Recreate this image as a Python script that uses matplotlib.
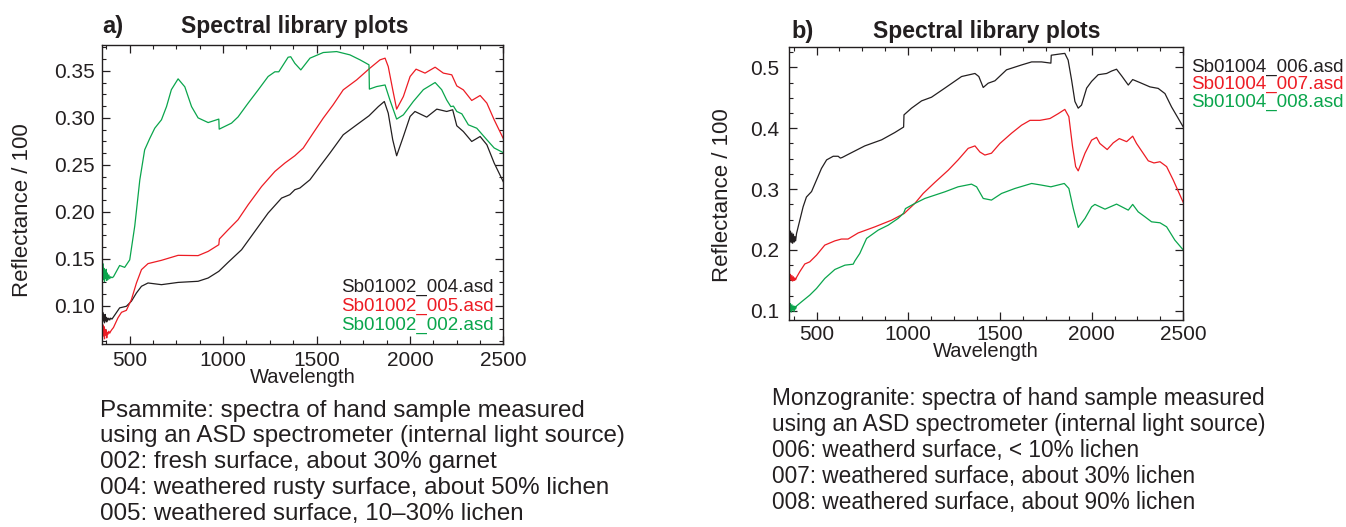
"""Two spectral library panels (ASD hand-sample spectra): psammite and monzogranite."""
import matplotlib
matplotlib.use('Agg')
import matplotlib.pyplot as plt
from matplotlib.ticker import MultipleLocator, FormatStrFormatter

plt.rcParams['font.family'] = ['Liberation Sans', 'DejaVu Sans']

INK   = '#231f20'
RED   = '#ed1c24'
GREEN = '#0aa54c'

# ─── panel a: psammite ────────────────────────────────────────────
a_wl_002 = [350, 353, 356, 359, 362, 365, 368, 371, 374, 377, 380, 384, 388, 393, 398, 405,
            413, 446, 473, 500, 527, 554, 580, 607, 634, 670, 697, 723, 759, 795, 831, 866,
            920, 977, 979, 1045, 1080, 1134, 1188, 1241, 1277, 1298, 1348, 1362, 1384, 1416,
            1465, 1536, 1608, 1679, 1733, 1781, 1783, 1822, 1867, 1893, 1929, 1965, 2018,
            2072, 2135, 2170, 2197, 2219, 2233, 2251, 2278, 2313, 2358, 2412, 2451, 2500]
a_rf_002 = [0.160, 0.131, 0.145, 0.128, 0.140, 0.126, 0.137, 0.129, 0.139, 0.127, 0.135,
            0.128, 0.133, 0.129, 0.131, 0.130, 0.131, 0.143, 0.141, 0.149, 0.185, 0.234,
            0.266, 0.278, 0.289, 0.298, 0.312, 0.330, 0.3415, 0.333, 0.312, 0.300, 0.295,
            0.2987, 0.288, 0.2944, 0.301, 0.3157, 0.3298, 0.344, 0.349, 0.349, 0.3645,
            0.365, 0.358, 0.351, 0.3635, 0.3695, 0.3705, 0.367, 0.3617, 0.3564, 0.3306,
            0.3333, 0.335, 0.319, 0.2987, 0.3032, 0.3174, 0.330, 0.3376, 0.330, 0.319,
            0.312, 0.3125, 0.3068, 0.3043, 0.2926, 0.289, 0.2767, 0.268, 0.263]

a_wl_005 = [350, 353, 356, 359, 362, 365, 368, 371, 374, 377, 380, 384, 388, 393, 398, 405,
            413, 437, 456, 482, 509, 536, 563, 598, 670, 759, 866, 920, 977, 980, 1027, 1080,
            1134, 1206, 1277, 1331, 1384, 1429, 1482, 1536, 1589, 1643, 1715, 1786, 1840,
            1867, 1884, 1908, 1929, 1965, 2001, 2033, 2081, 2135, 2179, 2224, 2251, 2286,
            2331, 2376, 2412, 2451, 2500]
a_rf_005 = [0.085, 0.066, 0.080, 0.068, 0.078, 0.065, 0.075, 0.069, 0.074, 0.066, 0.072,
            0.070, 0.073, 0.071, 0.073, 0.075, 0.077, 0.0873, 0.0932, 0.0953, 0.1067, 0.1244,
            0.1386, 0.145, 0.1485, 0.1538, 0.1535, 0.158, 0.1651, 0.1712, 0.181, 0.1917,
            0.2076, 0.227, 0.243, 0.252, 0.2597, 0.2679, 0.2838, 0.2997, 0.3139, 0.3298,
            0.3404, 0.3529, 0.3617, 0.3635, 0.3546, 0.330, 0.3093, 0.3227, 0.344, 0.3518,
            0.3476, 0.3539, 0.3476, 0.3458, 0.334, 0.3298, 0.3185, 0.3238, 0.3157, 0.298,
            0.278]

a_wl_004 = [350, 353, 356, 359, 362, 365, 368, 371, 374, 377, 380, 384, 388, 393, 398, 405,
            413, 446, 482, 509, 536, 563, 598, 670, 759, 866, 920, 977, 1027, 1099, 1170,
            1241, 1313, 1357, 1384, 1411, 1465, 1518, 1572, 1643, 1715, 1781, 1831, 1863,
            1884, 1908, 1929, 1965, 2001, 2027, 2090, 2144, 2197, 2229, 2251, 2286, 2331,
            2376, 2412, 2451, 2500]
a_rf_004 = [0.096, 0.083, 0.093, 0.084, 0.090, 0.082, 0.091, 0.084, 0.088, 0.083, 0.087,
            0.085, 0.087, 0.085, 0.087, 0.086, 0.0883, 0.0979, 0.0996, 0.105, 0.1138, 0.1209,
            0.1244, 0.1226, 0.125, 0.1262, 0.1297, 0.1368, 0.1464, 0.1598, 0.1793, 0.1988,
            0.2147, 0.2183, 0.2236, 0.2254, 0.2342, 0.2484, 0.2626, 0.282, 0.2926, 0.3022,
            0.312, 0.3174, 0.305, 0.2767, 0.2597, 0.2802, 0.3015, 0.3068, 0.3008, 0.3093,
            0.3068, 0.3086, 0.2916, 0.2855, 0.2749, 0.2802, 0.2714, 0.252, 0.232]

# ─── panel b: monzogranite ────────────────────────────────────────
b_wl_006 = [350, 354, 358, 362, 366, 370, 374, 378, 382, 386, 391, 409, 427, 445, 473, 500,
            527, 555, 591, 618, 630, 640, 672, 763, 855, 927, 975, 977, 1018, 1073, 1127,
            1200, 1291, 1364, 1385, 1409, 1436, 1473, 1536, 1618, 1673, 1727, 1778, 1780,
            1827, 1854, 1872, 1891, 1909, 1927, 1945, 1973, 2000, 2036, 2082, 2109, 2136,
            2164, 2200, 2224, 2264, 2318, 2363, 2400, 2436, 2500]
b_rf_006 = [0.222, 0.213, 0.231, 0.212, 0.228, 0.211, 0.226, 0.213, 0.222, 0.215, 0.227,
            0.249, 0.271, 0.287, 0.296, 0.315, 0.334, 0.348, 0.354, 0.354, 0.351, 0.352,
            0.357, 0.371, 0.381, 0.393, 0.402, 0.422, 0.433, 0.445, 0.451, 0.466, 0.485,
            0.490, 0.485, 0.467, 0.474, 0.478, 0.496, 0.504, 0.509, 0.509, 0.507, 0.520,
            0.522, 0.523, 0.512, 0.479, 0.444, 0.433, 0.438, 0.466, 0.477, 0.488, 0.490,
            0.494, 0.497, 0.486, 0.471, 0.480, 0.475, 0.468, 0.4655, 0.457, 0.435, 0.402]

b_wl_007 = [350, 354, 358, 362, 366, 370, 374, 378, 382, 386, 391, 409, 436, 463, 500, 545,
            600, 636, 672, 727, 818, 909, 978, 1036, 1082, 1145, 1218, 1272, 1327, 1364,
            1391, 1418, 1454, 1500, 1564, 1618, 1664, 1718, 1773, 1818, 1854, 1876, 1896,
            1913, 1927, 1964, 2000, 2027, 2045, 2085, 2118, 2151, 2191, 2224, 2245, 2281,
            2309, 2340, 2373, 2409, 2445, 2500]
b_rf_007 = [0.163, 0.151, 0.160, 0.150, 0.158, 0.149, 0.156, 0.150, 0.154, 0.151, 0.155,
            0.1645, 0.177, 0.1805, 0.1915, 0.208, 0.215, 0.218, 0.218, 0.228, 0.238, 0.249,
            0.260, 0.2765, 0.293, 0.311, 0.331, 0.348, 0.367, 0.371, 0.361, 0.356, 0.359,
            0.375, 0.392, 0.405, 0.413, 0.413, 0.416, 0.424, 0.431, 0.419, 0.370, 0.337,
            0.330, 0.359, 0.3805, 0.385, 0.375, 0.365, 0.376, 0.383, 0.378, 0.387, 0.375,
            0.359, 0.3465, 0.343, 0.345, 0.337, 0.315, 0.278]

b_wl_008 = [350, 354, 358, 362, 366, 370, 374, 378, 382, 386, 391, 418, 463, 500, 545, 600,
            655, 700, 709, 736, 773, 836, 891, 945, 975, 985, 1036, 1091, 1145, 1200, 1272,
            1345, 1373, 1409, 1454, 1509, 1582, 1673, 1727, 1778, 1851, 1876, 1900, 1927,
            1964, 2000, 2018, 2073, 2136, 2200, 2224, 2254, 2291, 2327, 2373, 2409, 2454, 2500]
b_rf_008 = [0.117, 0.100, 0.112, 0.098, 0.110, 0.101, 0.108, 0.099, 0.1077, 0.103, 0.108,
            0.1148, 0.1258, 0.1368, 0.1532, 0.168, 0.1751, 0.1767, 0.182, 0.1943, 0.219,
            0.2326, 0.2408, 0.2519, 0.2605, 0.268, 0.2765, 0.2847, 0.2901, 0.2956, 0.3038,
            0.3082, 0.3038, 0.2847, 0.282, 0.2929, 0.3011, 0.3093, 0.3066, 0.3038, 0.3093,
            0.3011, 0.2683, 0.237, 0.2519, 0.2709, 0.2749, 0.2671, 0.2754, 0.2655, 0.2749,
            0.2627, 0.2545, 0.2463, 0.2447, 0.2381, 0.2162, 0.200]

a_names = ['Sb01002_004.asd', 'Sb01002_005.asd', 'Sb01002_002.asd']
b_names = ['Sb01004_006.asd', 'Sb01004_007.asd', 'Sb01004_008.asd']

a_notes = ['Psammite: spectra of hand sample measured',
           'using an ASD spectrometer (internal light source)',
           '002: fresh surface, about 30% garnet',
           '004: weathered rusty surface, about 50% lichen',
           '005: weathered surface, 10\u201330% lichen']
b_notes = ['Monzogranite: spectra of hand sample measured',
           'using an ASD spectrometer (internal light source)',
           '006: weatherd surface, < 10% lichen',
           '007: weathered surface, about 30% lichen',
           '008: weathered surface, about 90% lichen']

W, H = 1346, 527
fig = plt.figure(figsize=(W / 100, H / 100), dpi=100)
fig.patch.set_facecolor('white')


def fx(px):
    return px / W


def fy(py):
    return 1 - py / H


def txt(px, py, s, size, color=INK, bold=False, ha='left', va='baseline', rot=0):
    fig.text(fx(px), fy(py), s, fontsize=size, color=color, ha=ha, va=va, rotation=rot,
             fontweight='bold' if bold else 'normal')


def style(ax, ymin, ymax, ymaj, ymin_step, yfmt, ypad, xpad):
    ax.set_xlim(350, 2500)
    ax.set_ylim(ymin, ymax)
    ax.xaxis.set_major_locator(MultipleLocator(500))
    ax.xaxis.set_minor_locator(MultipleLocator(125))
    ax.yaxis.set_major_locator(MultipleLocator(ymaj))
    ax.yaxis.set_minor_locator(MultipleLocator(ymin_step))
    ax.yaxis.set_major_formatter(FormatStrFormatter(yfmt))
    ax.tick_params(which='both', direction='in', top=True, right=True,
                   colors=INK, labelsize=15)
    ax.tick_params(which='major', length=6, width=0.9)
    ax.tick_params(which='minor', length=3, width=0.8)
    ax.tick_params(axis='y', pad=ypad)
    ax.tick_params(axis='x', pad=xpad)
    for sp in ax.spines.values():
        sp.set_linewidth(1.0)
        sp.set_color(INK)


# panel a axes
ax_a = fig.add_axes([fx(101.7), fy(344), (503.3 - 101.7) / W, (344 - 45) / H])
ax_a.plot(a_wl_004, a_rf_004, color=INK, lw=0.9)
ax_a.plot(a_wl_005, a_rf_005, color=RED, lw=0.9)
ax_a.plot(a_wl_002, a_rf_002, color=GREEN, lw=0.9)
style(ax_a, 0.0595, 0.3775, 0.05, 0.0125, '%.2f', 5, 5)

# panel b axes
ax_b = fig.add_axes([fx(789), fy(320), (1183.3 - 789) / W, (320 - 47.3) / H])
ax_b.plot(b_wl_006, b_rf_006, color=INK, lw=0.9)
ax_b.plot(b_wl_007, b_rf_007, color=RED, lw=0.9)
ax_b.plot(b_wl_008, b_rf_008, color=GREEN, lw=0.9)
style(ax_b, 0.085, 0.533, 0.1, 0.025, '%.1f', 7, 3.5)

# titles
txt(102.7, 33.3, 'a)', 17, bold=True)
txt(294.8, 33.3, 'Spectral library plots', 16.5, bold=True, ha='center')
txt(791, 37.7, 'b)', 17, bold=True)
txt(986.5, 37.7, 'Spectral library plots', 16.5, bold=True, ha='center')

# axis labels
txt(302.5, 383, 'Wavelength', 14.5, ha='center')
txt(23, 210, 'Reflectance / 100', 16, ha='center', va='center', rot=90)
txt(986, 357, 'Wavelength', 14.5, ha='center')
txt(723, 195, 'Reflectance / 100', 16, ha='center', va='center', rot=90)

# sample names
cols = [INK, RED, GREEN]
for name, col, py in zip(a_names, cols, [291.7, 310.7, 330]):
    txt(493.3, py, name, 13.5, color=col, ha='right')
for name, col, py in zip(b_names, cols, [71.7, 89.3, 107.3]):
    txt(1191, py, name, 13.5, color=col)

# captions
for i, line in enumerate(a_notes):
    txt(100, 416.5 + 25.8 * i, line, 17.4)
for i, line in enumerate(b_notes):
    txt(771.7, 404.7 + 26.1 * i, line, 16.3)

fig.savefig('out.png', dpi=100, facecolor='white')
plt.close(fig)
